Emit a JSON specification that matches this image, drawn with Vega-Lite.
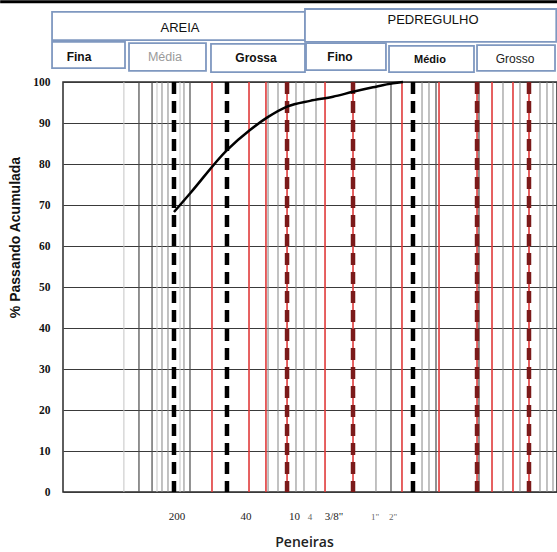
{
  "$schema": "https://vega.github.io/schema/vega-lite/v6.json",
  "width": 494,
  "height": 410,
  "autosize": {"type": "none"},
  "padding": {"left": 63, "top": 82, "right": 0, "bottom": 60},
  "background": "white",
  "config": {
    "view": {"stroke": "#2a2a2a", "strokeWidth": 1.5},
    "axis": {"domain": false, "ticks": false}
  },
  "resolve": {"axis": {"x": "independent", "y": "independent"}},
  "datasets": {
    "linhas": [
      {"mm": 0.0166, "tipo": "clara"},
      {"mm": 0.0259, "tipo": "escura"},
      {"mm": 0.0381, "tipo": "escura"},
      {"mm": 0.0441, "tipo": "clara"},
      {"mm": 0.0511, "tipo": "media"},
      {"mm": 0.0610, "tipo": "media"},
      {"mm": 0.0870, "tipo": "clara"},
      {"mm": 0.0978, "tipo": "media"},
      {"mm": 0.1168, "tipo": "escura"},
      {"mm": 1.17, "tipo": "media"},
      {"mm": 1.57, "tipo": "media"},
      {"mm": 2.67, "tipo": "media"},
      {"mm": 3.38, "tipo": "media"},
      {"mm": 4.82, "tipo": "media"},
      {"mm": 28.3, "tipo": "media"},
      {"mm": 44.1, "tipo": "escura"},
      {"mm": 110.2, "tipo": "media"},
      {"mm": 135.4, "tipo": "media"},
      {"mm": 166.5, "tipo": "escura"},
      {"mm": 592, "tipo": "escura"},
      {"mm": 1203, "tipo": "media"},
      {"mm": 1987, "tipo": "media"},
      {"mm": 3586, "tipo": "media"},
      {"mm": 4409, "tipo": "media"},
      {"mm": 5264, "tipo": "media"},
      {"mm": 0.2236, "tipo": "vermelha"},
      {"mm": 0.667, "tipo": "vermelha"},
      {"mm": 1.10, "tipo": "vermelha"},
      {"mm": 2.05, "tipo": "vermelha"},
      {"mm": 6.29, "tipo": "vermelha"},
      {"mm": 14.37, "tipo": "vermelha"},
      {"mm": 61.0, "tipo": "vermelha"},
      {"mm": 182, "tipo": "vermelha"},
      {"mm": 559, "tipo": "vermelha"},
      {"mm": 870, "tipo": "vermelha"},
      {"mm": 1616, "tipo": "vermelha"},
      {"mm": 2592, "tipo": "vermelha"},
      {"mm": 0.0728, "tipo": "preta"},
      {"mm": 0.348, "tipo": "preta"},
      {"mm": 84.4, "tipo": "preta"},
      {"mm": 2.05, "tipo": "vinho"},
      {"mm": 14.37, "tipo": "vinho"},
      {"mm": 559, "tipo": "vinho"},
      {"mm": 2592, "tipo": "vinho"}
    ],
    "curva": [
      {"mm": 0.0728, "pct": 68.3},
      {"mm": 0.1168, "pct": 72.8},
      {"mm": 0.348, "pct": 83.4},
      {"mm": 0.686, "pct": 88.3},
      {"mm": 1.133, "pct": 91.3},
      {"mm": 2.05, "pct": 94.0},
      {"mm": 4.04, "pct": 95.4},
      {"mm": 7.96, "pct": 96.4},
      {"mm": 14.37, "pct": 97.6},
      {"mm": 25.9, "pct": 98.7},
      {"mm": 46.8, "pct": 99.7},
      {"mm": 62.8, "pct": 100}
    ],
    "caixas": [
      {"nome": "AREIA", "mm": 0.00199, "mm2": 3.48, "pct": 117.1, "pct2": 110.2},
      {"nome": "PEDREGULHO", "mm": 3.48, "mm2": 5800, "pct": 117.8, "pct2": 109.8},
      {"nome": "Fina", "mm": 0.00199, "mm2": 0.01715, "pct": 109.8, "pct2": 103.4},
      {"nome": "Média", "mm": 0.0193, "mm2": 0.1873, "pct": 109.5, "pct2": 102.7},
      {"nome": "Grossa", "mm": 0.217, "mm2": 3.48, "pct": 109.3, "pct2": 102.4},
      {"nome": "Fino", "mm": 3.59, "mm2": 38.0, "pct": 109.5, "pct2": 102.9},
      {"nome": "Médio", "mm": 41.6, "mm2": 511, "pct": 108.8, "pct2": 102.4},
      {"nome": "Grosso", "mm": 559, "mm2": 5588, "pct": 109.0, "pct2": 102.7}
    ]
  },
  "layer": [
    {
      "data": {"name": "linhas"},
      "transform": [{"filter": "datum.tipo == 'clara'"}],
      "mark": {"type": "rule", "color": "#c4c4c4", "strokeWidth": 1},
      "encoding": {
        "x": {
          "field": "mm",
          "type": "quantitative",
          "scale": {"type": "log", "domain": [0.00275, 5925], "nice": false},
          "axis": {
            "title": "Peneiras",
            "labels": false,
            "grid": false,
            "titleFont": "Open Sans",
            "titleFontWeight": 600,
            "titleFontSize": 14,
            "titleColor": "#222",
            "titleX": 241,
            "titleY": 50,
            "titleBaseline": "middle"
          }
        }
      }
    },
    {
      "data": {"name": "linhas"},
      "transform": [{"filter": "datum.tipo == 'media'"}],
      "mark": {"type": "rule", "color": "#858585", "strokeWidth": 1},
      "encoding": {"x": {"field": "mm", "type": "quantitative", "axis": null}}
    },
    {
      "data": {"name": "linhas"},
      "transform": [{"filter": "datum.tipo == 'escura'"}],
      "mark": {"type": "rule", "color": "#4a4a4a", "strokeWidth": 1.2},
      "encoding": {"x": {"field": "mm", "type": "quantitative", "axis": null}}
    },
    {
      "data": {"name": "linhas"},
      "transform": [{"filter": "datum.tipo == 'vermelha'"}],
      "mark": {"type": "rule", "color": "#e03a3a", "strokeWidth": 1.6},
      "encoding": {"x": {"field": "mm", "type": "quantitative", "axis": null}}
    },
    {
      "data": {"name": "linhas"},
      "transform": [{"filter": "datum.tipo == 'preta'"}],
      "mark": {"type": "rule", "color": "#000000", "strokeWidth": 4.5, "strokeDash": [12, 7]},
      "encoding": {"x": {"field": "mm", "type": "quantitative", "axis": null}}
    },
    {
      "data": {"name": "linhas"},
      "transform": [{"filter": "datum.tipo == 'vinho'"}],
      "mark": {"type": "rule", "color": "#7b1a1a", "strokeWidth": 4.5, "strokeDash": [12, 7]},
      "encoding": {"x": {"field": "mm", "type": "quantitative", "axis": null}}
    },
    {
      "data": {"name": "curva"},
      "mark": {"type": "line", "color": "#000000", "strokeWidth": 2.5, "interpolate": "monotone"},
      "encoding": {
        "x": {"field": "mm", "type": "quantitative", "axis": null},
        "y": {
          "field": "pct",
          "type": "quantitative",
          "scale": {"domain": [0, 100], "nice": false},
          "axis": {
            "values": [0, 10, 20, 30, 40, 50, 60, 70, 80, 90, 100],
            "title": "% Passando Acumulada",
            "grid": true,
            "gridColor": "#3a3a3a",
            "gridWidth": 1,
            "labelFont": "Liberation Serif",
            "labelFontSize": 11.5,
            "labelFontWeight": "bold",
            "labelColor": "#111",
            "labelPadding": 13,
            "titleFont": "Liberation Sans",
            "titleFontWeight": "bold",
            "titleFontSize": 14,
            "titleColor": "#111",
            "titleAngle": -90,
            "titleX": -48,
            "titleY": 155,
            "titleAlign": "center",
            "titleBaseline": "middle"
          }
        }
      }
    },
    {
      "data": {"name": "caixas"},
      "mark": {"type": "rect", "fill": "white", "stroke": "#7f98c0", "strokeWidth": 1.8},
      "encoding": {
        "x": {"field": "mm", "type": "quantitative", "axis": null},
        "x2": {"field": "mm2"},
        "y": {"field": "pct", "type": "quantitative", "axis": null},
        "y2": {"field": "pct2"}
      }
    },
    {
      "data": {"values": [
        {"nome": "AREIA", "mm": 0.087, "pct": 113.2},
        {"nome": "PEDREGULHO", "mm": 152.5, "pct": 115.1}
      ]},
      "mark": {"type": "text", "font": "Liberation Sans", "fontSize": 13, "color": "#111", "baseline": "middle", "align": "center"},
      "encoding": {
        "x": {"field": "mm", "type": "quantitative", "axis": null},
        "y": {"field": "pct", "type": "quantitative", "axis": null},
        "text": {"field": "nome"}
      }
    },
    {
      "data": {"values": [
        {"nome": "Fina", "mm": 0.00441, "pct": 106.1},
        {"nome": "Grossa", "mm": 0.82, "pct": 105.9},
        {"nome": "Fino", "mm": 9.78, "pct": 106.1}
      ]},
      "mark": {"type": "text", "font": "Liberation Sans", "fontSize": 12, "fontWeight": "bold", "color": "#111", "baseline": "middle", "align": "center"},
      "encoding": {
        "x": {"field": "mm", "type": "quantitative", "axis": null},
        "y": {"field": "pct", "type": "quantitative", "axis": null},
        "text": {"field": "nome"}
      }
    },
    {
      "data": {"values": [
        {"nome": "Médio", "mm": 139.4, "pct": 105.4}
      ]},
      "mark": {"type": "text", "font": "Liberation Sans", "fontSize": 11, "fontWeight": "bold", "color": "#111", "baseline": "middle", "align": "center"},
      "encoding": {
        "x": {"field": "mm", "type": "quantitative", "axis": null},
        "y": {"field": "pct", "type": "quantitative", "axis": null},
        "text": {"field": "nome"}
      }
    },
    {
      "data": {"values": [
        {"nome": "Grosso", "mm": 1715, "pct": 105.6}
      ]},
      "mark": {"type": "text", "font": "Liberation Sans", "fontSize": 12, "color": "#222", "baseline": "middle", "align": "center"},
      "encoding": {
        "x": {"field": "mm", "type": "quantitative", "axis": null},
        "y": {"field": "pct", "type": "quantitative", "axis": null},
        "text": {"field": "nome"}
      }
    },
    {
      "data": {"values": [
        {"nome": "Média", "mm": 0.0558, "pct": 106.1}
      ]},
      "mark": {"type": "text", "font": "Liberation Sans", "fontSize": 12.5, "color": "#9a9a9a", "baseline": "middle", "align": "center"},
      "encoding": {
        "x": {"field": "mm", "type": "quantitative", "axis": null},
        "y": {"field": "pct", "type": "quantitative", "axis": null},
        "text": {"field": "nome"}
      }
    },
    {
      "data": {"values": [
        {"peneira": "200", "mm": 0.0796},
        {"peneira": "40", "mm": 0.61},
        {"peneira": "10", "mm": 2.554},
        {"peneira": "3/8\"", "mm": 8.2}
      ]},
      "mark": {"type": "text", "font": "Liberation Serif", "fontSize": 11, "color": "#222", "baseline": "middle", "align": "center"},
      "encoding": {
        "x": {"field": "mm", "type": "quantitative", "axis": null},
        "y": {"datum": -6, "type": "quantitative", "axis": null},
        "text": {"field": "peneira"}
      }
    },
    {
      "data": {"values": [
        {"peneira": "4", "mm": 4.04},
        {"peneira": "1\"", "mm": 27.5},
        {"peneira": "2\"", "mm": 46.8}
      ]},
      "mark": {"type": "text", "font": "Liberation Serif", "fontSize": 9, "color": "#666", "baseline": "middle", "align": "center"},
      "encoding": {
        "x": {"field": "mm", "type": "quantitative", "axis": null},
        "y": {"datum": -6, "type": "quantitative", "axis": null},
        "text": {"field": "peneira"}
      }
    },
    {
      "data": {"values": [{}]},
      "mark": {"type": "rule", "color": "#000", "strokeWidth": 3},
      "encoding": {
        "x": {"datum": 0.00043, "type": "quantitative", "axis": null},
        "x2": {"datum": 5925},
        "y": {"datum": 119.6, "type": "quantitative", "axis": null}
      }
    }
  ]
}
